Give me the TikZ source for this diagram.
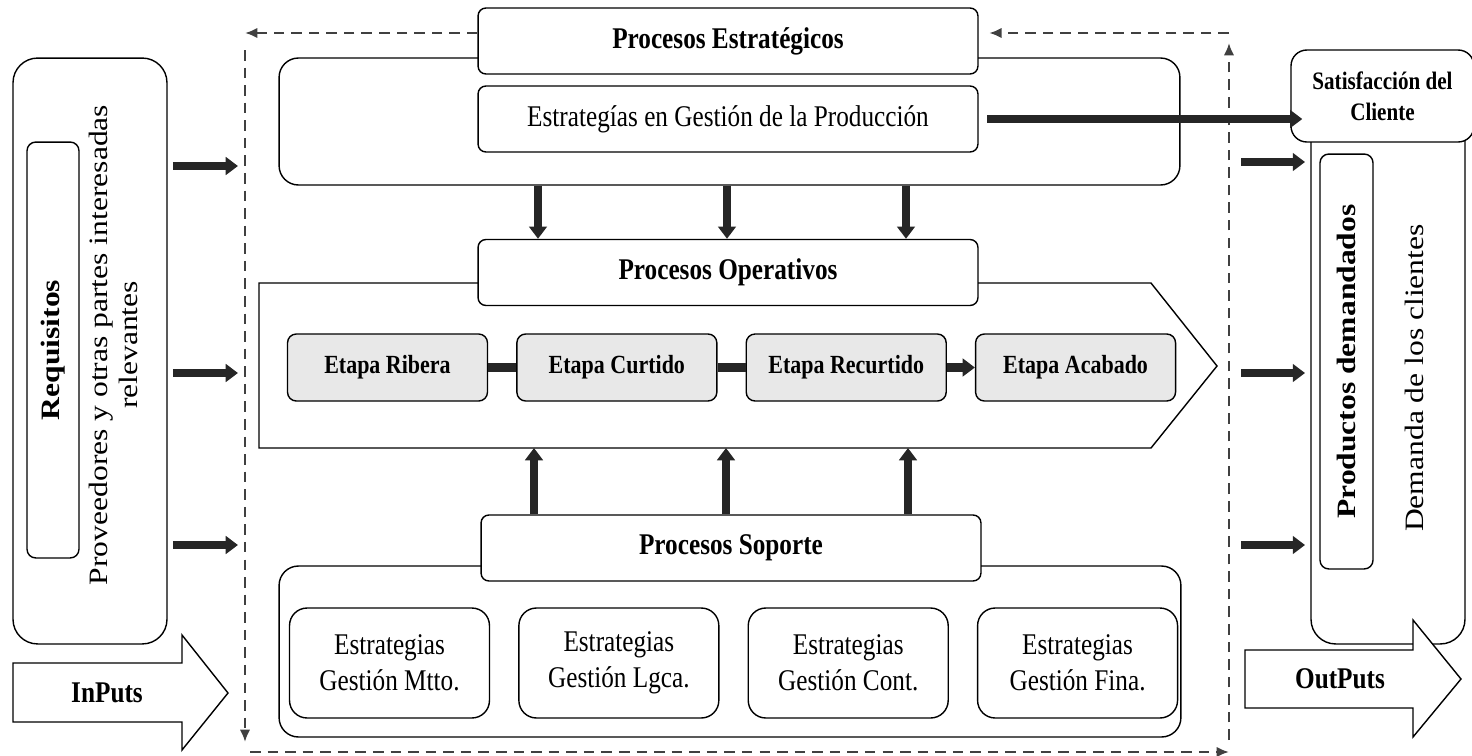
\documentclass[tikz,border=0pt]{standalone}
\usepackage{fontspec}
\setmainfont{Liberation Serif}[FakeStretch=0.84]
\newfontfamily\widefont{Liberation Serif}[FakeStretch=1.19]
\usepackage{tikz}
\usetikzlibrary{positioning}
\usetikzlibrary{calc}
\usetikzlibrary{arrows.meta}

\begin{document}
\begin{tikzpicture}[
    x=0.02cm, y=-0.02cm,        % pixel grid, y grows downwards
    node distance=6mm and 5.6mm, % Global setup of box spacing
    ]
% -------------------------------------------------
\tikzset{
  base/.style={draw, line width=0.8pt, fill=white, align=center, inner sep=0pt},
  titl/.style={base, rounded corners=4.5pt, minimum width=10cm, minimum height=1.32cm, font=\bfseries\fontsize{17.1}{20}\selectfont},
  textbox/.style={titl, font=\fontsize{17.1}{20}\selectfont},
  frame/.style={base, rounded corners=11pt},
  etapa/.style={base, rounded corners=5pt, fill=gray!18, minimum width=4cm, minimum height=1.34cm, font=\bfseries\fontsize{14.9}{17}\selectfont},
  estr/.style={base, rounded corners=10pt, minimum width=4cm, minimum height=2.2cm, font=\fontsize{17.1}{20.5}\selectfont},
  side/.style={base, rotate=90, rounded corners=5pt, font=\widefont\bfseries\fontsize{15.1}{17}\selectfont},
  vtext/.style={rotate=90, align=center, font=\widefont\fontsize{15.1}{17}\selectfont},
  bigarrow/.style={draw, line width=0.8pt, fill=white},
  flow/.style={draw, line width=5pt, black!85, -{Triangle[length=7pt,width=10pt]}},
  bar/.style={draw, line width=5pt, black!85},
  cyc/.style={draw, line width=1.5pt, black!75, dash pattern=on 6pt off 4pt, -{Latex[length=7pt,width=6pt]}}
}
\useasboundingbox (0,0) rectangle (1472,755);
% -------------------------------------------------
% Frames in the back

\node [frame, minimum width=18.02cm, minimum height=2.54cm] (topfr) at (729.5,121.5) {};
\draw [bigarrow] (259,283) coordinate (chnw) -- (1151,283) -- (1217,366) coordinate (chtip)
   -- (1151,448) -- (259,448) coordinate (chsw) -- cycle;
\node [frame, minimum width=18.04cm, minimum height=3.42cm] (supfr) at (730,651.5) {};
\node [frame, rounded corners=14pt, minimum width=3.08cm, minimum height=11.72cm] (lbox) at (90,351) {};
\node [frame, rounded corners=14pt, minimum width=3.08cm, minimum height=10.88cm] (rbox) at (1388,372) {};

% -------------------------------------------------
% Placing the nodes

\node [titl] (pe) at (728,41) {Procesos Estratégicos};
\node [textbox] (egp) at (728,119) {Estrategías en Gestión de la Producción};
\node [titl] (po) at (728,272.5) {Procesos Operativos};
\node [titl] (ps) at (731,548) {Procesos Soporte};

\node [etapa] (rib) at (387.5,367.5) {Etapa Ribera};
\node [etapa, right=of rib] (cur) {Etapa Curtido};
\node [etapa, right=of cur] (rec) {Etapa Recurtido};
\node [etapa, right=of rec] (aca) {Etapa Acabado};

\node [estr] (mtto) at (389.5,663) {Estrategias\\Gestión Mtto.};
\node [estr, right=of mtto] (lgca) {Estrategias\\Gestión Lgca.};
\node [estr, right=of lgca] (cont) {Estrategias\\Gestión Cont.};
\node [estr, right=of cont] (fina) {Estrategias\\Gestión Fina.};

\node [side, minimum width=8.32cm, minimum height=1.04cm] (req) at (53,350) {Requisitos};
\node [vtext] (prov) at (113,345) {Proveedores y otras partes interesadas\\relevantes};
\node [side, minimum width=8.3cm, minimum height=1.06cm] (prod) at (1346.5,361.5) {Productos demandados};
\node [vtext] (dem) at (1414,378) {Demanda de los clientes};
\node [base, rounded corners=9pt, minimum width=3.66cm, minimum height=1.84cm,
       font=\bfseries\fontsize{14.3}{17.6}\selectfont] (sat) at (1382.5,96) {Satisfacción del\\Cliente};

\draw [bigarrow] (13,663) -- (182,663) -- (182,635) -- (228,693) -- (182,750) -- (182,722) -- (13,722) -- cycle;
\node [font=\bfseries\fontsize{17.1}{20}\selectfont] (inp) at (107,693) {InPuts};
\draw [bigarrow] (1245,650) -- (1413,650) -- (1413,620) -- (1461,679) -- (1413,737) -- (1413,708) -- (1245,708) -- cycle;
\node [font=\bfseries\fontsize{17.1}{20}\selectfont] (outp) at (1340,679) {OutPuts};

% -------------------------------------------------
% Dashed cycle round the processes

\coordinate (dnw) at (245,33);
\coordinate (dsw) at (245,752);
\coordinate (dse) at (1229,752);
\coordinate (dne) at (1229,33);

\path [cyc] (pe.west |- dnw) -- (dnw);
\path [cyc] ($(dnw)+(0,17)$) -- ($(dsw)+(0,-10)$);
\path [cyc] ($(dsw)+(5,0)$) -- (dse);
\path [cyc] ($(dse)+(0,-12)$) -- ($(dne)+(0,10)$);
\path [cyc, shorten >=6pt] (dne) -- (pe.east |- dne);

% -------------------------------------------------
% Arrows

\path [bar] (rib.east) -- (cur.west);
\path [bar] (cur.east) -- (rec.west);
\path [flow] (rec.east) -- (aca.west);

\foreach \x in {538,727,906}
  \path [flow] (topfr.south -| \x,0) -- (po.north -| \x,0);
\foreach \x in {534,726,908}
  \path [flow] (ps.north -| \x,0) -- (chsw -| \x,0);

\foreach \y in {166,373,545}
  \path [flow, shorten <=3pt, shorten >=4pt] (lbox.east |- 0,\y) -- (dnw |- 0,\y);
\foreach \y in {162,373,545}
  \path [flow, shorten <=7pt, shorten >=3pt] (dne |- 0,\y) -- (rbox.west |- 0,\y);

\path [flow, shorten <=5pt] (egp.east) -- ($(sat.west |- egp.east)+(12,0)$);

\end{tikzpicture}
\end{document}
